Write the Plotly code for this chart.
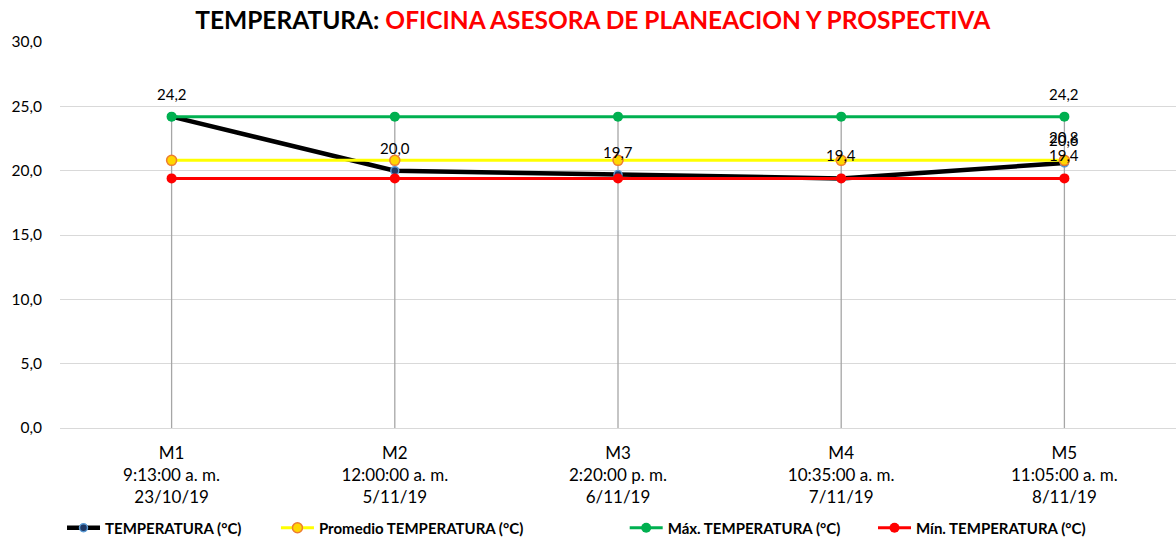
import plotly.graph_objects as go

categories = ["M1<br>9:13:00 a. m.<br>23/10/19",
              "M2<br>12:00:00 a. m.<br>5/11/19",
              "M3<br>2:20:00 p. m.<br>6/11/19",
              "M4<br>10:35:00 a. m.<br>7/11/19",
              "M5<br>11:05:00 a. m.<br>8/11/19"]
temperatura = [24.2, 20.0, 19.7, 19.4, 20.6]
promedio = [20.8, 20.8, 20.8, 20.8, 20.8]
maximo = [24.2, 24.2, 24.2, 24.2, 24.2]
minimo = [19.4, 19.4, 19.4, 19.4, 19.4]

FONT = "Lato"

def fmt(v):
    return f"{v:.1f}".replace(".", ",")

fig = go.Figure()

# drop lines from highest series to axis
dx, dy = [], []
for i, c in enumerate(categories):
    top = max(temperatura[i], promedio[i], maximo[i], minimo[i])
    dx += [c, c, None]
    dy += [0, top, None]
fig.add_trace(go.Scatter(x=dx, y=dy, mode="lines", line=dict(color="#A6A6A6", width=1.3),
                         showlegend=False, hoverinfo="skip"))

fig.add_trace(go.Scatter(x=categories, y=temperatura, name="TEMPERATURA (°C)", legend="legend",
                         mode="lines+markers", line=dict(color="#000000", width=4.5),
                         marker=dict(size=8, color="#1F3864", line=dict(color="#5B9BD5", width=1.5))))
fig.add_trace(go.Scatter(x=categories, y=promedio, name="Promedio TEMPERATURA (°C)", legend="legend2",
                         mode="lines+markers", line=dict(color="#FFFF00", width=3),
                         marker=dict(size=10, color="#FFD700", line=dict(color="#ED7D31", width=1.5))))
fig.add_trace(go.Scatter(x=categories, y=maximo, name="Máx. TEMPERATURA (°C)", legend="legend3",
                         mode="lines+markers", line=dict(color="#00B050", width=3),
                         marker=dict(size=10, color="#00B050")))
fig.add_trace(go.Scatter(x=categories, y=minimo, name="Mín. TEMPERATURA (°C)", legend="legend4",
                         mode="lines+markers", line=dict(color="#FF0000", width=3),
                         marker=dict(size=10, color="#FF0000")))

annotations = []
for i, c in enumerate(categories):
    annotations.append(dict(x=c, y=temperatura[i], text=fmt(temperatura[i])))
last = categories[-1]
for series in (promedio, maximo, minimo):
    annotations.append(dict(x=last, y=series[-1], text=fmt(series[-1])))
for a in annotations:
    a.update(showarrow=False, yshift=23, font=dict(family=FONT, size=15, color="#000000"))

legfont = dict(family=FONT, size=15, color="#000000", weight="bold")
def leg(x):
    return dict(orientation="h", x=x, xanchor="left", y=0.024, yanchor="middle", yref="container",
                font=legfont, bgcolor="rgba(0,0,0,0)", borderwidth=0, itemwidth=33)

fig.update_layout(
    width=1176, height=541,
    paper_bgcolor="white", plot_bgcolor="white",
    margin=dict(l=60, r=0, t=42, b=113),
    separators=",.",
    font=dict(family=FONT, size=14, color="#000000"),
    title=dict(text="<b>TEMPERATURA: <span style='color:#FF0000'>OFICINA ASESORA DE PLANEACION Y PROSPECTIVA</span></b>",
               x=0.504, xanchor="center", y=0.963, yanchor="middle",
               font=dict(family=FONT, size=24.5, color="#000000")),
    xaxis=dict(type="category", range=[-0.5, 4.5], showgrid=False, showline=False,
               ticks="", tickfont=dict(family=FONT, size=17), fixedrange=True,
               automargin=False, ticklabelstandoff=13),
    yaxis=dict(range=[0, 30], dtick=5, tickformat=".1f", showgrid=True, gridcolor="#D9D9D9",
               gridwidth=1.3, zeroline=True, zerolinecolor="#D9D9D9", zerolinewidth=1.3,
               showline=False, ticks="", tickfont=dict(family=FONT, size=15.5),
               automargin=False, ticklabelstandoff=17),
    legend=leg(0.0018),
    legend2=leg(0.1935),
    legend3=leg(0.506),
    legend4=leg(0.7285),
    annotations=annotations,
    showlegend=True,
)

fig.write_html("out.html", post_script="document.body.style.margin='0';",
               config={"displayModeBar": False})
